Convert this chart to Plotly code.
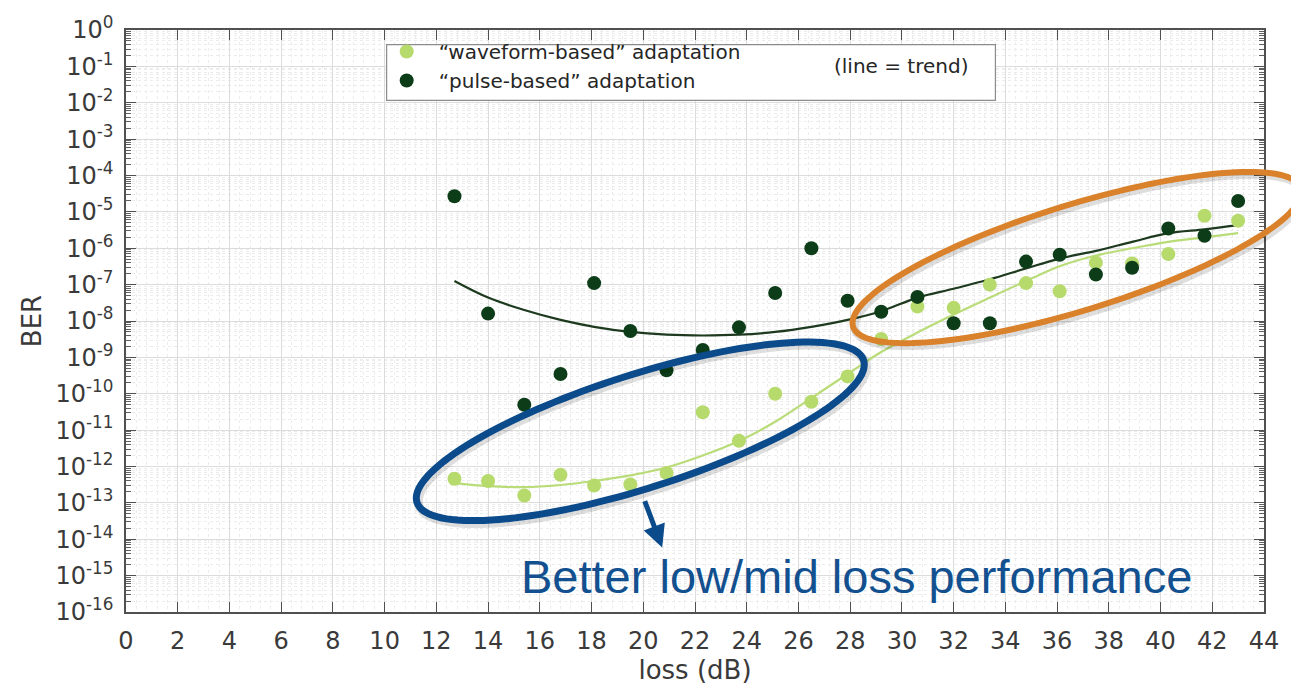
import numpy as np
import plotly.graph_objects as go

# ---------------- data ----------------
loss_db = [12.7, 14.0, 15.4, 16.8, 18.1, 19.5, 20.9, 22.3, 23.7, 25.1, 26.5, 27.9,
           29.2, 30.6, 32.0, 33.4, 34.8, 36.1, 37.5, 38.9, 40.3, 41.7, 43.0]
ber_waveform = [4.6e-13, 4.0e-13, 1.6e-13, 5.9e-13, 3.0e-13, 3.2e-13, 6.6e-13, 3.1e-11,
                5.1e-12, 1.0e-10, 6.0e-11, 3.0e-10, 3.2e-9, 2.5e-8, 2.3e-8, 1.0e-7,
                1.1e-7, 6.6e-8, 4.0e-7, 3.8e-7, 6.9e-7, 7.8e-6, 5.7e-6]
ber_pulse = [2.7e-5, 1.6e-8, 5.0e-11, 3.5e-10, 1.1e-7, 5.3e-9, 4.4e-10, 1.6e-9,
             6.7e-9, 5.9e-8, 1.0e-6, 3.6e-8, 1.8e-8, 4.6e-8, 8.7e-9, 8.7e-9,
             4.3e-7, 6.6e-7, 1.9e-7, 2.9e-7, 3.5e-6, 2.2e-6, 2.0e-5]

# trend lines (at the same loss values)
trend_waveform_y = [3.5e-13, 2.9e-13, 2.7e-13, 3.1e-13, 4.0e-13, 5.7e-13, 9.4e-13, 2.0e-12,
                    5.0e-12, 1.7e-11, 7.6e-11, 3.5e-10, 1.4e-9, 4.8e-9, 1.5e-8, 4.4e-8,
                    1.26e-7, 3.2e-7, 6.3e-7, 1.0e-6, 1.5e-6, 2.0e-6, 2.6e-6]
trend_pulse_y = [1.26e-7, 4.4e-8, 2.0e-8, 1.07e-8, 6.9e-9, 5.0e-9, 4.2e-9, 4.0e-9,
                 4.2e-9, 5.0e-9, 6.9e-9, 1.07e-8, 1.86e-8, 4.4e-8, 7.7e-8, 1.4e-7,
                 2.8e-7, 5.2e-7, 8.5e-7, 1.5e-6, 2.6e-6, 3.3e-6, 4.3e-6]

x_ticks = list(range(0, 45, 2))
y_exponents = list(range(-16, 1))
y_tickvals = [10.0 ** e for e in y_exponents]
y_ticktext = ["10<sup>%d</sup>" % e for e in y_exponents]

LIGHT = "#b6da6b"
DARK = "#0c3d18"
LIGHT_LINE = "#b9dc78"
DARK_LINE = "#1d3a1f"
BLUE = "#0b4a8b"
ORANGE = "#d9822b"

# ---------------- layout geometry (pixels) ----------------
W, H = 1291, 691
PL, PR, PT, PB = 126, 1270, 23, 619   # plot area edges


def px2paper(px, py):
    return (px - PL) / (PR - PL), (PB - py) / (PB - PT)


def ellipse_path(cx, cy, a, b, theta_deg, n=140):
    th = np.radians(theta_deg)
    t = np.linspace(0, 2 * np.pi, n, endpoint=False)
    dx = a * np.cos(t) * np.cos(th) - b * np.sin(t) * np.sin(th)
    dy = a * np.cos(t) * np.sin(th) + b * np.sin(t) * np.cos(th)
    pts = [px2paper(cx + u, cy - v) for u, v in zip(dx, dy)]
    s = "M %.5f,%.5f " % pts[0]
    s += " ".join("L %.5f,%.5f" % p for p in pts[1:])
    return s + " Z"


fig = go.Figure()

fig.add_trace(go.Scatter(x=loss_db, y=trend_waveform_y, mode="lines",
                         line=dict(color=LIGHT_LINE, width=2.2, shape="spline", smoothing=1.0),
                         showlegend=False, hoverinfo="skip"))
fig.add_trace(go.Scatter(x=loss_db, y=trend_pulse_y, mode="lines",
                         line=dict(color=DARK_LINE, width=2.2, shape="spline", smoothing=1.0),
                         showlegend=False, hoverinfo="skip"))
fig.add_trace(go.Scatter(x=loss_db, y=ber_waveform, mode="markers",
                         name="\u201cwaveform-based\u201d adaptation",
                         marker=dict(color=LIGHT, size=14, line=dict(width=0))))
fig.add_trace(go.Scatter(x=loss_db, y=ber_pulse, mode="markers",
                         name="\u201cpulse-based\u201d adaptation",
                         marker=dict(color=DARK, size=14, line=dict(width=0))))

tick_font = dict(family="DejaVu Sans", size=24, color="#3a3a3a")
title_font = dict(family="DejaVu Sans", size=26, color="#3a3a3a")

minor_y = [k * 10.0 ** e for e in range(-16, 0) for k in range(2, 10)]

fig.update_xaxes(
    range=[0, 44], tickvals=x_ticks, ticktext=[str(v) for v in x_ticks],
    showline=True, linecolor="#505050", linewidth=1.5, mirror="ticks",
    ticks="inside", ticklen=10, tickcolor="#505050", tickwidth=1.2,
    showgrid=True, gridcolor="#dcdcdc", gridwidth=1, zeroline=False,
    minor=dict(dtick=0.4, tick0=0, showgrid=True, gridcolor="#ececec",
               griddash="dot", ticks=""),
    tickfont=tick_font, ticklabelstandoff=6,
    title=dict(text="loss (dB)", font=title_font, standoff=6),
)
fig.update_yaxes(
    type="log", range=[-16, 0], tickvals=y_tickvals, ticktext=y_ticktext,
    showline=True, linecolor="#505050", linewidth=1.5, mirror="ticks",
    ticks="inside", ticklen=10, tickcolor="#505050", tickwidth=1.2,
    showgrid=True, gridcolor="#dcdcdc", gridwidth=1, zeroline=False,
    minor=dict(tickvals=minor_y, showgrid=True, gridcolor="#ececec",
               griddash="dot", ticks="inside", ticklen=5, tickcolor="#606060"),
    tickfont=tick_font, ticklabelstandoff=6,
    title=dict(text="BER", font=title_font, standoff=6),
)

# legend box and callout ellipses (with a soft shadow)
lx0, ly0 = px2paper(388, 95)
lx1, ly1 = px2paper(1000, 38)
SHADOW = "rgba(0,0,0,0.13)"
shapes = [
    dict(type="rect", xref="paper", yref="paper", x0=lx0, y0=ly0, x1=lx1, y1=ly1,
         line=dict(color="#8c8c8c", width=1.2), fillcolor="white", layer="above"),
    dict(type="path", xref="paper", yref="paper",
         path=ellipse_path(645, 437, 236, 58, 18.0),
         line=dict(color=SHADOW, width=9), layer="above"),
    dict(type="path", xref="paper", yref="paper",
         path=ellipse_path(643, 434, 236, 58, 18.0),
         line=dict(color=BLUE, width=7), layer="above"),
    dict(type="path", xref="paper", yref="paper",
         path=ellipse_path(1084, 259, 236, 54, 17.5),
         line=dict(color=SHADOW, width=8), layer="above"),
    dict(type="path", xref="paper", yref="paper",
         path=ellipse_path(1082, 256, 236, 54, 17.5),
         line=dict(color=ORANGE, width=6), layer="above"),
]

tx, ty = px2paper(905, 60)
bx, by = px2paper(860, 583)
ax_tip_x, ax_tip_y = px2paper(665, 553)
annotations = [
    dict(text="(line = trend)", x=tx, y=ty, xref="paper", yref="paper",
         showarrow=False, xanchor="center", yanchor="middle",
         font=dict(family="DejaVu Sans", size=20, color="#262626")),
    dict(text="Better low/mid loss performance", x=bx, y=by, xref="paper", yref="paper",
         showarrow=False, xanchor="center", yanchor="middle",
         font=dict(family="Liberation Sans, Arial", size=47, color="#12508f")),
    dict(text="", x=ax_tip_x, y=ax_tip_y, xref="paper", yref="paper",
         showarrow=True, ax=-18, ay=-48, arrowhead=2, arrowsize=0.9,
         arrowwidth=5, arrowcolor=BLUE),
]

lgx, lgy = px2paper(376, 25)
fig.update_layout(
    width=W, height=H,
    margin=dict(l=PL, r=W - PR, t=PT, b=H - PB, pad=0),
    paper_bgcolor="white", plot_bgcolor="white",
    shapes=shapes, annotations=annotations,
    legend=dict(x=lgx, y=lgy, xanchor="left", yanchor="top",
                bgcolor="rgba(0,0,0,0)", borderwidth=0,
                font=dict(family="DejaVu Sans", size=20, color="#262626"),
                itemwidth=54, tracegroupgap=0),
    showlegend=True,
)

fig.write_html("out.html")
